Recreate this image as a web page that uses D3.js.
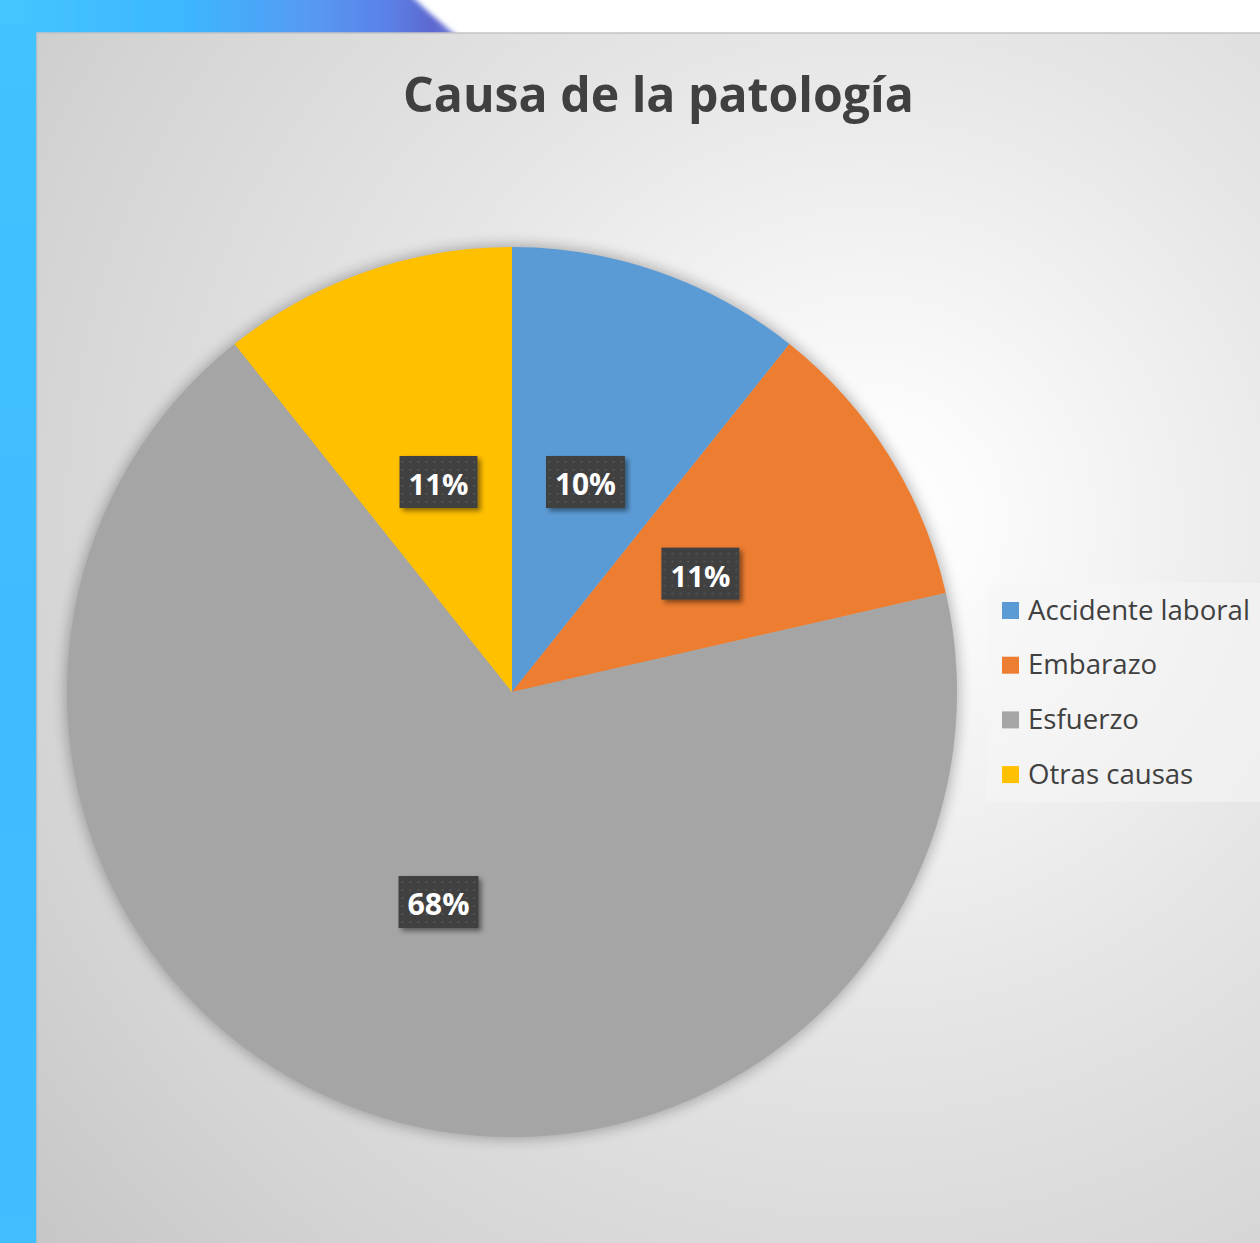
<!DOCTYPE html>
<html><head><meta charset="utf-8">
<script src="https://cdn.jsdelivr.net/npm/d3@7"></script>
<style>html,body{margin:0;padding:0;background:#fff;overflow:hidden}</style>
</head><body>
<script>
const title = "Causa de la patología";
const categories = ["Accidente laboral", "Embarazo", "Esfuerzo", "Otras causas"];
const values = [6, 6, 38, 6];
const pctLabels = ["10%", "11%", "68%", "11%"];
const colors = ["#5B9BD5", "#ED7D31", "#A5A5A5", "#FFC000"];

const W = 1260, H = 1243;
const svg = d3.select("body").append("svg").attr("width", W).attr("height", H);
const defs = svg.append("defs");

// backgrounds
svg.append("rect").attr("x", 0).attr("y", 0).attr("width", W).attr("height", H).attr("fill", "#fff");
const lgTop = defs.append("linearGradient").attr("id", "topg").attr("gradientUnits", "userSpaceOnUse")
  .attr("x1", 0).attr("x2", 465).attr("y1", 0).attr("y2", 0);
[[0, "#45c6ff"], [0.4, "#3cb6ff"], [0.68, "#5898f4"], [0.84, "#5a80e6"], [0.93, "#5d68d0"], [1, "#7a80d8"]]
  .forEach(([o, c]) => lgTop.append("stop").attr("offset", o).attr("stop-color", c));
const blurTop = defs.append("filter").attr("id", "blurTop").attr("x", "-5%").attr("y", "-20%").attr("width", "110%").attr("height", "140%");
blurTop.append("feGaussianBlur").attr("stdDeviation", 2.5);
svg.append("path").attr("d", "M-10,-10 L405,-10 C418,2 428,12 438,20 C446,27 452,32 462,40 L-10,40 Z")
  .attr("fill", "url(#topg)").attr("filter", "url(#blurTop)");
const lgLeft = defs.append("linearGradient").attr("id", "leftg").attr("x1", 0).attr("x2", 0).attr("y1", 0).attr("y2", 1);
[[0, "#42c2ff"], [0.5, "#3fbcff"], [1, "#40beff"]]
  .forEach(([o, c]) => lgLeft.append("stop").attr("offset", o).attr("stop-color", c));
svg.append("rect").attr("x", 0).attr("y", 25).attr("width", 38).attr("height", H).attr("fill", "url(#leftg)");

const rg = defs.append("radialGradient").attr("id", "bgg").attr("gradientUnits", "userSpaceOnUse")
  .attr("cx", 870).attr("cy", 520).attr("r", 1150);
[[0, "#ffffff"], [0.1, "#fbfbfb"], [0.42, "#e6e6e6"], [0.75, "#d4d4d4"], [1, "#c4c4c4"]]
  .forEach(([o, c]) => rg.append("stop").attr("offset", o).attr("stop-color", c));
svg.append("rect").attr("x", 37).attr("y", 33).attr("width", 1300).attr("height", 1300)
  .attr("fill", "url(#bgg)").attr("stroke", "#c4c4c4").attr("stroke-width", 1.5);

// filters
const shf = defs.append("filter").attr("id", "pieShadow").attr("x", "-20%").attr("y", "-20%").attr("width", "140%").attr("height", "140%");
shf.append("feGaussianBlur").attr("stdDeviation", 7);
const lbf = defs.append("filter").attr("id", "lblShadow").attr("x", "-30%").attr("y", "-30%").attr("width", "160%").attr("height", "160%");
lbf.append("feDropShadow").attr("dx", 3).attr("dy", 3).attr("stdDeviation", 2.5).attr("flood-color", "#000").attr("flood-opacity", 0.45);
const pat = defs.append("pattern").attr("id", "dots").attr("patternUnits", "userSpaceOnUse").attr("width", 8).attr("height", 8);
pat.append("rect").attr("width", 8).attr("height", 8).attr("fill", "#404040");
pat.append("circle").attr("cx", 4).attr("cy", 4).attr("r", 1.1).attr("fill", "#565656");

function fit(sel, target) {
  const fs = +sel.attr("font-size");
  const len = sel.node().getComputedTextLength();
  sel.attr("font-size", fs * target / len);
}

// title
const tt = svg.append("text").attr("x", 658.5).attr("y", 112).attr("text-anchor", "middle")
  .attr("font-family", "'Open Sans', sans-serif").attr("font-weight", 700).attr("font-size", 50)
  .attr("fill", "#404040").text(title);
fit(tt, 511);

// pie
const cx = 512, cy = 692, R = 445;
const g = svg.append("g").attr("transform", `translate(${cx},${cy})`);
g.append("circle").attr("r", R + 2).attr("fill", "#000").attr("opacity", 0.28).attr("filter", "url(#pieShadow)");
const pie = d3.pie().sort(null).value(d => d)(values);
const arc = d3.arc().innerRadius(0).outerRadius(R);
g.selectAll("path.slice").data(pie).join("path").attr("class", "slice")
  .attr("d", arc).attr("fill", (d, i) => colors[i]);

// data labels
const lg = g.selectAll("g.lbl").data(pie).join("g").attr("class", "lbl")
  .attr("transform", d => `translate(${arc.centroid(d)})`);
lg.each(function (d, i) {
  const gg = d3.select(this);
  const box = gg.append("rect").attr("fill", "url(#dots)").attr("filter", "url(#lblShadow)");
  const t = gg.append("text").attr("text-anchor", "middle").attr("y", 13)
    .attr("font-family", "'Open Sans', sans-serif").attr("font-weight", 700).attr("font-size", 29)
    .attr("fill", "#ffffff").text(pctLabels[i]);
  fit(t, i === 0 ? 61 : (i === 2 ? 62 : 60));
  const w = t.node().getComputedTextLength() + 18;
  box.attr("x", -w / 2).attr("y", -26).attr("width", w).attr("height", 52);
});

// legend
const leg = svg.append("g");
leg.append("rect").attr("x", 987).attr("y", 583).attr("width", 300).attr("height", 219)
  .attr("fill", "#f6f6f6").attr("opacity", 0.55);
const items = leg.selectAll("g.it").data(categories).join("g").attr("class", "it")
  .attr("transform", (d, i) => `translate(1002, ${610 + i * 54.7})`);
items.append("rect").attr("x", 0).attr("y", -8).attr("width", 17).attr("height", 17)
  .attr("fill", (d, i) => colors[i]);
const legTexts = items.append("text").attr("x", 26).attr("y", 9.5)
  .attr("font-family", "'Open Sans', sans-serif").attr("font-size", 25).attr("fill", "#404040")
  .text(d => d);
const firstLen = legTexts.nodes()[0].getComputedTextLength();
legTexts.attr("font-size", 25 * 222 / firstLen);
</script>
</body></html>
